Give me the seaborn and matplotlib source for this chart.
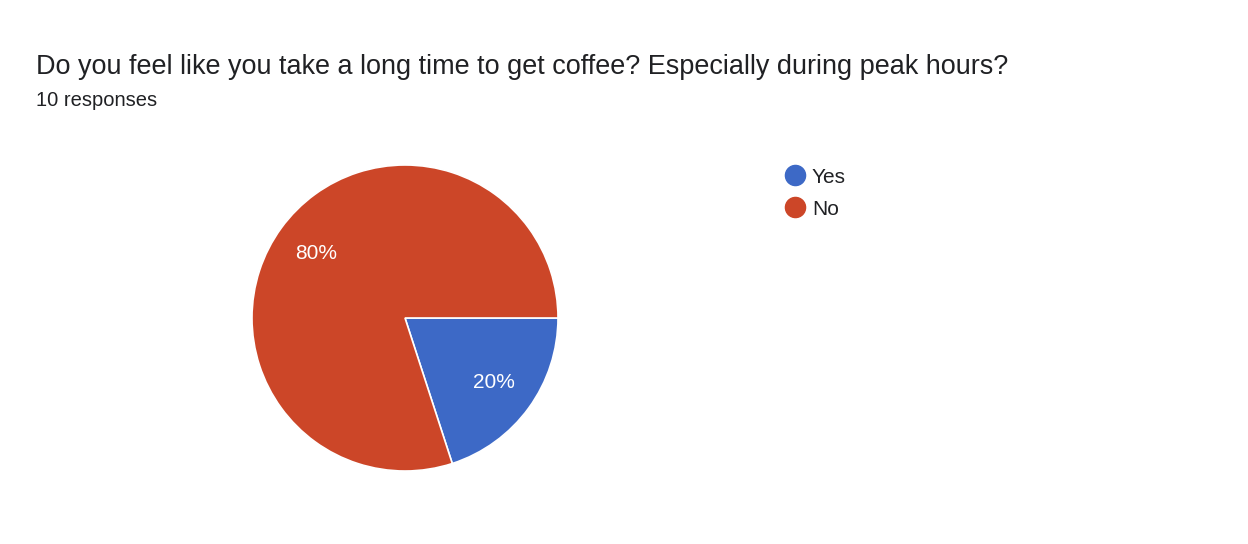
import seaborn as sns
import matplotlib.pyplot as plt
from matplotlib.lines import Line2D

title = "Do you feel like you take a long time to get coffee? Especially during peak hours?"
subtitle = "10 responses"
answers = ["Yes", "No"]
counts = [2, 8]
colors = ["#3d69c6", "#cc4628"]

sns.set_theme(style="white")
plt.rcParams["font.family"] = ["Liberation Sans", "DejaVu Sans"]

fig = plt.figure(figsize=(12.48, 5.44), dpi=100)
fig.patch.set_facecolor("white")

# pie centred at about (405, 318) px with radius ~153 px
r = 153
ax = fig.add_axes([(405 - r) / 1248, (544 - 318 - r) / 544, 2 * r / 1248, 2 * r / 544])
ax.pie(counts, colors=colors, startangle=0, counterclock=False,
       autopct="%1.0f%%", pctdistance=0.72,
       wedgeprops=dict(edgecolor="white", linewidth=1.2),
       textprops=dict(color="white", fontsize=15))
ax.set_xlim(-1, 1)
ax.set_ylim(-1, 1)
ax.set_aspect("equal")
ax.axis("off")

fig.text(36 / 1248, 1 - 67 / 544, title, fontsize=19.45, color="#202124", va="center")
fig.text(36 / 1248, 1 - 100 / 544, subtitle, fontsize=14.5, color="#202124", va="center")

handles = [Line2D([0], [0], marker="o", linestyle="", markersize=14.5,
                  markerfacecolor=c, markeredgecolor=c) for c in colors]
fig.legend(handles, answers, loc="upper left", bbox_to_anchor=(762 / 1248, 1 - 149 / 544),
           frameon=False, fontsize=15, handletextpad=0.1, labelspacing=0.62,
           handlelength=1.4, labelcolor="#202124")

fig.savefig("out.png", dpi=100, facecolor="white")
